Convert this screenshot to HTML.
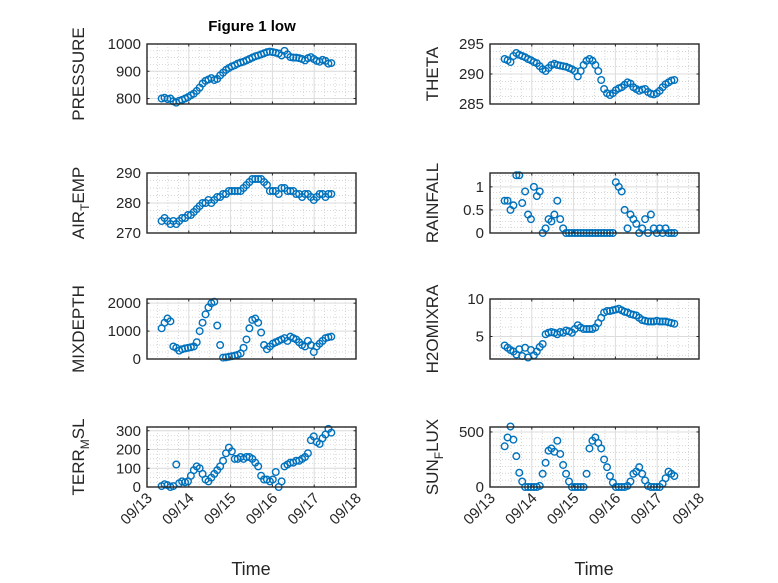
<!DOCTYPE html>
<html><head><meta charset="utf-8"><style>
html,body{margin:0;padding:0;background:#fff;}
svg{display:block;font-family:"Liberation Sans","DejaVu Sans",sans-serif;}
</style></head><body>
<svg id="fig" width="778" height="583" viewBox="0 0 778 583" xmlns="http://www.w3.org/2000/svg">
<rect width="778" height="583" fill="#fff"/>
<text x="252" y="31" text-anchor="middle" font-size="15" font-weight="bold" fill="#000">Figure 1 low</text>
<text x="251" y="575" text-anchor="middle" font-size="18" fill="#262626">Time</text>
<text x="594" y="575" text-anchor="middle" font-size="18" fill="#262626">Time</text>
</svg>
<script>
const times=[0.35,0.42,0.49,0.56,0.63,0.70,0.77,0.84,0.91,0.98,1.05,1.12,1.19,1.26,1.33,1.40,1.47,1.54,1.61,1.68,1.75,1.82,1.89,1.96,2.03,2.10,2.17,2.24,2.31,2.38,2.45,2.52,2.59,2.66,2.73,2.80,2.87,2.94,3.01,3.08,3.15,3.22,3.29,3.36,3.43,3.50,3.57,3.64,3.71,3.78,3.85,3.92,3.99,4.06,4.13,4.20,4.27,4.34,4.41];
const xTickLabels=["09/13","09/14","09/15","09/16","09/17","09/18"];
const pressure=[800,803,798,800,790,785,792,795,800,805,812,818,828,840,855,865,870,875,868,872,885,895,905,912,918,922,928,932,935,940,945,950,955,958,962,966,970,972,970,968,965,958,975,962,952,950,950,948,945,940,948,952,945,938,935,942,938,928,930];
const airTemp=[274,275,274,273,274,273,274,275,275,276,276,277,278,279,280,280,281,280,281,282,282,283,283,284,284,284,284,284,285,286,287,288,288,288,288,287,286,284,284,284,283,285,285,284,284,284,283,283,282,283,283,282,281,282,283,283,282,283,283];
const mixDepth=[1100,1300,1450,1350,450,400,300,350,380,400,420,450,600,1000,1300,1600,1850,2000,2050,1200,500,50,60,80,100,120,150,200,400,700,1100,1400,1450,1300,950,500,350,450,550,600,650,700,750,650,800,750,700,600,500,450,650,500,250,450,550,650,750,780,800];
const terrMsl=[5,15,10,0,5,120,20,30,25,30,60,90,110,100,70,40,30,50,70,90,110,140,180,210,190,150,150,160,150,160,160,150,130,110,60,40,40,30,40,80,0,30,110,120,130,130,140,140,150,160,180,250,270,240,230,260,280,310,290];
const theta=[292.5,292.3,292,293,293.5,293.2,293,292.8,292.5,292.3,292,291.8,291.3,290.8,290.5,291,291.5,291.7,291.5,291.4,291.3,291.2,291,290.8,290.5,289.6,290.5,291.5,292.2,292.5,292.2,291.5,290.5,289,287.5,286.8,286.5,286.8,287.3,287.6,287.8,288.2,288.6,288.4,287.8,287.5,287.2,287.4,287.5,287,286.7,286.6,286.8,287.2,287.8,288.3,288.6,288.9,289];
const rainfall=[0.7,0.7,0.5,0.6,1.25,1.25,0.65,0.9,0.4,0.3,1.0,0.8,0.9,0,0.1,0.3,0.25,0.4,0.7,0.3,0.1,0,0,0,0,0,0,0,0,0,0,0,0,0,0,0,0,0,1.1,1.0,0.9,0.5,0.1,0.4,0.3,0.2,0,0.1,0.3,0,0.4,0.1,0,0.1,0,0.1,0,0,0];
const h2oMix=[3.8,3.5,3.2,3.0,2.6,3.3,2.4,3.5,2.2,3.2,2.5,3.0,3.6,4.0,5.3,5.5,5.6,5.5,5.3,5.6,5.5,5.8,5.7,5.5,6.0,6.5,6.2,6.0,6.0,6.0,6.0,6.2,6.8,7.5,8.2,8.4,8.4,8.5,8.6,8.7,8.5,8.3,8.2,8.0,7.9,7.8,7.5,7.2,7.1,7.0,7.0,7.0,7.1,7.0,7.0,7.0,6.9,6.8,6.7];
const sunFlux=[370,450,550,430,280,130,50,0,0,0,0,0,10,120,220,330,350,320,420,300,200,120,50,0,0,0,0,0,120,350,420,450,400,350,250,180,100,40,0,0,0,0,10,50,120,140,180,120,60,10,0,0,0,0,30,80,140,120,100];
const pressureTicks=[800,900,1000];
const airTempTicks=[270,280,290];
const mixDepthTicks=[0,1000,2000];
const terrTicks=[0,100,200,300];
const thetaTicks=[285,290,295];
const rainTicks=[0,0.5,1];
const rainTickLabels=["0","0.5","1"];
const h2oTicks=[5,10];
const sunTicks=[0,500];

const NS="http://www.w3.org/2000/svg";
const svg=document.getElementById('fig');
function mk(tag,attrs,parent){const e=document.createElementNS(NS,tag);for(const k in attrs)e.setAttribute(k,attrs[k]);(parent||svg).appendChild(e);return e;}

const panels=[
 {name:'pressure',x0:147,y0:44,yLo:780,yHi:1000,ticks:pressureTicks,labels:null,minorStep:25,data:pressure,label:['PRESSURE'],lx:78,xl:false},
 {name:'air-temp',x0:147,y0:173,yLo:270,yHi:290,ticks:airTempTicks,labels:null,minorStep:2.5,data:airTemp,label:['AIR','T','EMP'],lx:78,xl:false},
 {name:'mixdepth',x0:147,y0:299,yLo:0,yHi:2150,ticks:mixDepthTicks,labels:null,minorStep:250,data:mixDepth,label:['MIXDEPTH'],lx:78,xl:false},
 {name:'terr-msl',x0:147,y0:427,yLo:0,yHi:320,ticks:terrTicks,labels:null,minorStep:25,data:terrMsl,label:['TERR','M','SL'],lx:78,xl:true},
 {name:'theta',x0:490,y0:44,yLo:285,yHi:295,ticks:thetaTicks,labels:null,minorStep:1.25,data:theta,label:['THETA'],lx:432,xl:false},
 {name:'rainfall',x0:490,y0:173,yLo:0,yHi:1.3,ticks:rainTicks,labels:rainTickLabels,minorStep:0.125,data:rainfall,label:['RAINFALL'],lx:432,xl:false},
 {name:'h2omixra',x0:490,y0:299,yLo:2,yHi:10,ticks:h2oTicks,labels:null,minorStep:1.25,data:h2oMix,label:['H2OMIXRA'],lx:432,xl:false},
 {name:'sun-flux',x0:490,y0:427,yLo:0,yHi:545,ticks:sunTicks,labels:null,minorStep:62.5,data:sunFlux,label:['SUN','F','LUX'],lx:432,xl:true}
];
const W=209,H=60,DAYS=5;
panels.forEach(p=>{
 const g=mk('g',{});
 
 
 const xs=d=>p.x0+d/DAYS*W;
 const ys=v=>p.y0+H-(v-p.yLo)/(p.yHi-p.yLo)*H;
 for(let d=0.25;d<DAYS;d+=0.25){ if(Math.abs(d-Math.round(d))<1e-6)continue;
  mk('line',{x1:xs(d),x2:xs(d),y1:p.y0,y2:p.y0+H,stroke:'#c8c8c8','stroke-width':0.7,'stroke-dasharray':'1,2'},g);}
 const m0=Math.ceil(p.yLo/p.minorStep)*p.minorStep;
 for(let v=m0;v<p.yHi;v+=p.minorStep){
  mk('line',{x1:p.x0,x2:p.x0+W,y1:ys(v),y2:ys(v),stroke:'#c8c8c8','stroke-width':0.7,'stroke-dasharray':'1,2'},g);}
 for(let d=1;d<DAYS;d++) mk('line',{x1:xs(d),x2:xs(d),y1:p.y0,y2:p.y0+H,stroke:'#dcdcdc','stroke-width':1},g);
 p.ticks.forEach(v=>mk('line',{x1:p.x0,x2:p.x0+W,y1:ys(v),y2:ys(v),stroke:'#dcdcdc','stroke-width':1},g));
 const n=Math.min(times.length,p.data.length);
 for(let i=0;i<n;i++){
  const c=mk('circle',{cx:xs(times[i]),cy:ys(p.data[i]),r:3.3,fill:'none',stroke:'#0072BD','stroke-width':1.4},g);
  
  
 }
 mk('rect',{x:p.x0,y:p.y0,width:W,height:H,fill:'none',stroke:'#262626','stroke-width':1.4},g);
 for(let d=0;d<=DAYS;d++){
  mk('line',{x1:xs(d),x2:xs(d),y1:p.y0+H,y2:p.y0+H-2.5,stroke:'#262626','stroke-width':1},g);
  mk('line',{x1:xs(d),x2:xs(d),y1:p.y0,y2:p.y0+2.5,stroke:'#262626','stroke-width':1},g);
 }
 p.ticks.forEach((v,i)=>{
  mk('line',{x1:p.x0,x2:p.x0+2.5,y1:ys(v),y2:ys(v),stroke:'#262626','stroke-width':1},g);
  mk('line',{x1:p.x0+W,x2:p.x0+W-2.5,y1:ys(v),y2:ys(v),stroke:'#262626','stroke-width':1},g);
  const t=mk('text',{x:p.x0-6,y:ys(v)+5,'text-anchor':'end','font-size':15,fill:'#262626'},g);
  
  
  t.textContent=p.labels?p.labels[i]:String(v);
 });
 if(p.xl){
  xTickLabels.forEach((s,d)=>{
   const t=mk('text',{x:0,y:0,'text-anchor':'end','font-size':15,fill:'#262626',transform:`translate(${xs(d)+6},${p.y0+H+12}) rotate(-45)`},g);
   
   
   t.textContent=s;
  });
 }
 const cy=p.y0+H/2;
 const t=mk('text',{x:0,y:0,'text-anchor':'middle','font-size':17,fill:'#262626',transform:`translate(${p.lx+6},${cy}) rotate(-90)`},g);
 
 
 if(p.label.length===1){t.textContent=p.label[0];}
 else{
  const a=mk('tspan',{},t);a.textContent=p.label[0];
  const b=mk('tspan',{'font-size':12,dy:5},t);b.textContent=p.label[1];
  const c=mk('tspan',{dy:-5},t);c.textContent=p.label[2];
 }
});
</script>
</body></html>
